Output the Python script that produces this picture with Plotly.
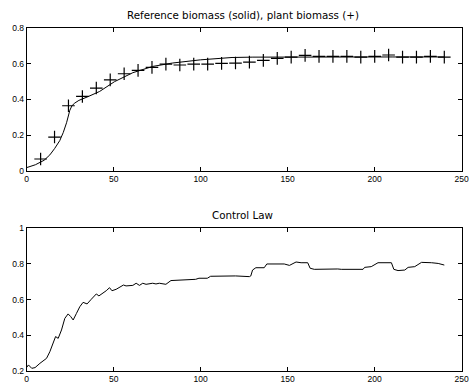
import plotly.graph_objects as go

# Reference biomass (solid line)
ref_t = [0, 5, 10, 13.3, 16, 19, 21, 22.9, 24.8, 26, 27.6, 30, 35, 41.9, 50.5, 61, 72.4, 83.8, 100, 110, 118, 130, 150, 180, 210, 240]
ref_v = [0.019, 0.035, 0.06, 0.09, 0.125, 0.17, 0.215, 0.27, 0.34, 0.365, 0.38, 0.395, 0.415, 0.445, 0.5, 0.55, 0.585, 0.604, 0.622, 0.63, 0.635, 0.637, 0.638, 0.638, 0.638, 0.638]

# Plant biomass (+ markers)
plant_t = [8, 16, 24, 32, 40, 48, 56, 64, 72, 80, 88, 96, 104, 112, 120, 128, 136, 144, 152, 160, 168, 176, 184, 192, 200, 208, 216, 224, 232, 240]
plant_v = [0.067, 0.19, 0.365, 0.417, 0.464, 0.51, 0.544, 0.563, 0.58, 0.598, 0.593, 0.598, 0.598, 0.602, 0.604, 0.609, 0.619, 0.63, 0.637, 0.647, 0.641, 0.641, 0.641, 0.637, 0.641, 0.649, 0.637, 0.637, 0.641, 0.637]

# Control law
ctrl_t = [0, 1, 2.9, 4.8, 7.6, 9.5, 11.4, 13.3, 15.2, 16.6, 18.1, 20, 21.9, 23.8, 25.3, 26.7, 28.6, 30.5, 32.4, 34.7, 37.1, 40, 41.5, 43.8, 45.7, 47.6, 49, 51.4, 53.3, 55.6, 57.1, 61, 62.9, 64.8, 66.7, 68.6, 72.4, 74.3, 76.2, 80, 82.9, 87.6, 91.4, 97.1, 99, 103.8, 105.7, 110.5, 120, 128, 128.8, 129.8, 131.7, 136.5, 138, 148, 151, 154.8, 157.7, 161.5, 162.9, 165.3, 171.1, 175, 178.8, 180.8, 193.3, 194.2, 198, 201.9, 209.6, 211, 213.4, 217.3, 219.2, 223, 225, 226.9, 232.7, 236.5, 240]
ctrl_v = [0.22, 0.234, 0.215, 0.219, 0.243, 0.256, 0.271, 0.308, 0.364, 0.393, 0.383, 0.43, 0.495, 0.52, 0.505, 0.486, 0.523, 0.56, 0.585, 0.576, 0.602, 0.632, 0.621, 0.636, 0.65, 0.667, 0.65, 0.658, 0.669, 0.682, 0.677, 0.68, 0.692, 0.68, 0.692, 0.686, 0.692, 0.688, 0.692, 0.686, 0.707, 0.71, 0.714, 0.714, 0.72, 0.72, 0.731, 0.733, 0.733, 0.729, 0.733, 0.766, 0.779, 0.779, 0.8, 0.8, 0.792, 0.811, 0.807, 0.807, 0.776, 0.77, 0.772, 0.77, 0.772, 0.77, 0.77, 0.781, 0.785, 0.807, 0.807, 0.77, 0.763, 0.766, 0.781, 0.785, 0.796, 0.809, 0.807, 0.803, 0.794]

x_ticks = [0, 50, 100, 150, 200, 250]
top_yticks = [0, 0.2, 0.4, 0.6, 0.8]
top_ylabels = ["0", "0.2", "0.4", "0.6", "0.8"]
bot_yticks = [0.2, 0.4, 0.6, 0.8, 1.0]
bot_ylabels = ["0.2", "0.4", "0.6", "0.8", "1"]

W, H = 469, 388
TICKFONT = dict(family="Liberation Sans, Arial, sans-serif", size=8.5, color="black")
TITLEFONT = dict(family="DejaVu Sans, sans-serif", size=10.3, color="black")

fig = go.Figure()
fig.add_trace(go.Scatter(x=ref_t, y=ref_v, mode="lines", line=dict(color="black", width=1),
                         xaxis="x", yaxis="y", showlegend=False))
fig.add_trace(go.Scatter(x=plant_t, y=plant_v, mode="markers",
                         marker=dict(symbol="cross-thin", size=9, line=dict(color="black", width=1.2)),
                         xaxis="x", yaxis="y", showlegend=False))
fig.add_trace(go.Scatter(x=ctrl_t, y=ctrl_v, mode="lines", line=dict(color="black", width=1),
                         xaxis="x2", yaxis="y2", showlegend=False))

xd = [26.7 / W, 461.7 / W]
axis_common = dict(showline=True, linecolor="black", linewidth=1, mirror="ticks",
                   ticks="inside", ticklen=4, tickcolor="black", tickwidth=1,
                   showgrid=False, zeroline=False, tickfont=TICKFONT, automargin=False,
                   ticklabeloverflow="allow")

fig.update_layout(
    width=W, height=H,
    margin=dict(l=0, r=0, t=0, b=0),
    paper_bgcolor="white", plot_bgcolor="white",
    font=TICKFONT,
    xaxis=dict(domain=xd, range=[0, 250], tickvals=x_ticks, anchor="y", **axis_common),
    yaxis=dict(domain=[1 - 171 / H, 1 - 28 / H], range=[0, 0.8], tickvals=top_yticks,
               ticktext=top_ylabels, anchor="x", **axis_common),
    xaxis2=dict(domain=xd, range=[0, 250], tickvals=x_ticks, anchor="y2", **axis_common),
    yaxis2=dict(domain=[1 - 371 / H, 1 - 228.3 / H], range=[0.2, 1.0], tickvals=bot_yticks,
                ticktext=bot_ylabels, anchor="x2", **axis_common),
    annotations=[
        dict(text="Reference biomass (solid), plant biomass (+)", x=242.5 / W,
             y=1 - 15 / H, xref="paper", yref="paper", showarrow=False, font=TITLEFONT,
             xanchor="center", yanchor="middle"),
        dict(text="Control Law", x=242.5 / W, y=1 - 215 / H, xref="paper",
             yref="paper", showarrow=False, font=TITLEFONT, xanchor="center", yanchor="middle"),
    ],
)

fig.write_html("out.html")
